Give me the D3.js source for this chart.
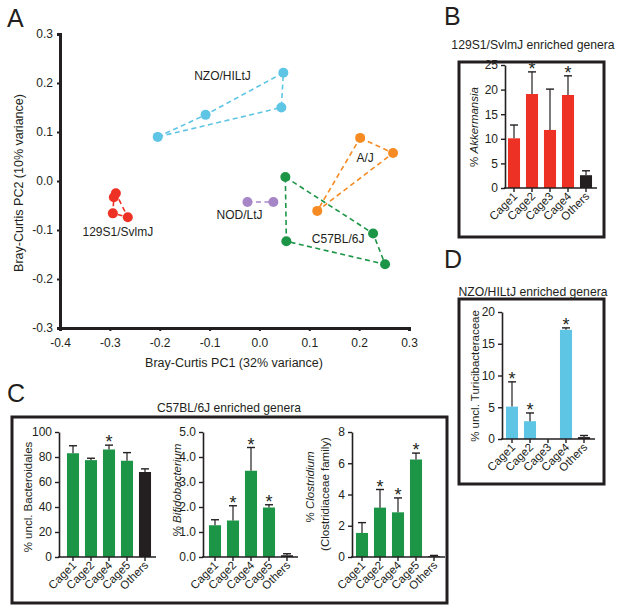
<!DOCTYPE html>
<html><head><meta charset="utf-8">
<script src="https://cdn.jsdelivr.net/npm/d3@7"></script>
<style>
html,body{margin:0;padding:0;background:#fff;}
svg text{font-family:"Liberation Sans",Arial,Helvetica,sans-serif;fill:#231f20;}
</style></head>
<body>
<svg id="chart" width="621" height="612"></svg>
<script>
// ---------- DATA ----------
// Panel A: Bray-Curtis PCoA (PC1, PC2) per strain, polygon order
const strainNames = ["129S1/SvlmJ", "NZO/HILtJ", "NOD/LtJ", "C57BL/6J", "A/J"];
const pc1_129S1 = [-0.288, -0.292, -0.294, -0.264];
const pc2_129S1 = [-0.025, -0.033, -0.066, -0.074];
const pc1_NZO = [-0.204, -0.108, 0.048, 0.044];
const pc2_NZO = [0.090, 0.135, 0.221, 0.150];
const pc1_NOD = [-0.024, 0.028];
const pc2_NOD = [-0.043, -0.043];
const pc1_C57 = [0.052, 0.228, 0.252, 0.054];
const pc2_C57 = [0.008, -0.107, -0.170, -0.123];
const pc1_AJ = [0.202, 0.268, 0.116];
const pc2_AJ = [0.088, 0.057, -0.061];
const pcXTicks = [-0.4, -0.3, -0.2, -0.1, 0.0, 0.1, 0.2, 0.3];
const pcYTicks = [-0.3, -0.2, -0.1, 0.0, 0.1, 0.2, 0.3];

// Panel B: 129S1/SvlmJ enriched genera (% Akkermansia)
const catsB = ["Cage1", "Cage2", "Cage3", "Cage4", "Others"];
const meanB = [10.1, 19.1, 11.8, 18.9, 2.6];
const semB = [2.7, 4.5, 8.3, 3.9, 0.9];
const sigB = [false, true, false, true, false];
const ticksB = [0, 5, 10, 15, 20, 25];

// Panel D: NZO/HILtJ enriched genera (% uncl. Turicibacteraceae)
const catsD = ["Cage1", "Cage2", "Cage3", "Cage4", "Others"];
const meanD = [5.1, 2.8, 0, 17.2, 0.3];
const semD = [3.9, 1.3, 0, 0.3, 0.25];
const sigD = [true, true, false, true, false];
const ticksD = [0, 5, 10, 15, 20];

// Panel C: C57BL/6J enriched genera
const catsC = ["Cage1", "Cage2", "Cage4", "Cage5", "Others"];
const meanC1 = [83, 77.5, 86, 77, 68];
const semC1 = [6, 1.5, 3.5, 6.5, 2.5];
const sigC1 = [false, false, true, false, false];
const ticksC1 = [0, 20, 40, 60, 80, 100];
const meanC2 = [1.27, 1.46, 3.45, 1.98, 0.07];
const semC2 = [0.22, 0.59, 0.93, 0.11, 0.06];
const sigC2 = [false, true, true, true, false];
const ticksC2 = [0, 1, 2, 3, 4, 5];
const meanC3 = [1.54, 3.16, 2.86, 6.24, 0.05];
const semC3 = [0.66, 1.16, 0.92, 0.41, 0.05];
const sigC3 = [false, true, true, true, false];
const ticksC3 = [0, 2, 4, 6, 8];

// ---------- STYLE ----------
const INK = "#231f20";
const RED = "#ed3124", CYAN = "#5ec5e5", GREEN = "#1d9547", ORANGE = "#f68b24", PURPLE = "#a686c6";
const svg = d3.select("#chart");

function letter(t, x, y) {
  svg.append("text").attr("x", x).attr("y", y).attr("font-size", 25).text(t);
}

// ---------- PANEL A ----------
(function () {
  const x = d3.scaleLinear().domain([-0.4, 0.3]).range([60, 409]);
  const y = d3.scaleLinear().domain([-0.3, 0.3]).range([328, 34]);
  const g = svg.append("g");
  const groups = [
    {name: strainNames[0], xs: pc1_129S1, ys: pc2_129S1, c: RED, lx: -0.284, ly: -0.113},
    {name: strainNames[1], xs: pc1_NZO, ys: pc2_NZO, c: CYAN, lx: -0.074, ly: 0.207},
    {name: strainNames[2], xs: pc1_NOD, ys: pc2_NOD, c: PURPLE, lx: -0.040, ly: -0.078},
    {name: strainNames[3], xs: pc1_C57, ys: pc2_C57, c: GREEN, lx: 0.158, ly: -0.127},
    {name: strainNames[4], xs: pc1_AJ, ys: pc2_AJ, c: ORANGE, lx: 0.212, ly: 0.039}
  ];
  groups.forEach(gr => {
    const pts = gr.xs.map((v, i) => [x(v), y(gr.ys[i])]);
    const line = pts.length > 2 ? d3.line().curve(d3.curveLinearClosed) : d3.line();
    g.append("path").attr("d", line(pts)).attr("fill", "none")
      .attr("stroke", gr.c).attr("stroke-width", 1.6).attr("stroke-dasharray", "5,3.5");
  });
  groups.forEach(gr => {
    g.selectAll(null).data(gr.xs.map((v, i) => [v, gr.ys[i]])).enter().append("circle")
      .attr("cx", d => x(d[0])).attr("cy", d => y(d[1])).attr("r", 5).attr("fill", gr.c);
    g.append("text").attr("x", x(gr.lx)).attr("y", y(gr.ly)).attr("text-anchor", "middle")
      .attr("font-size", 12).text(gr.name);
  });
  // axes
  const ax = g.append("g").attr("transform", "translate(0,328)")
    .call(d3.axisBottom(x).tickValues(pcXTicks).tickFormat(d3.format(".1f")).tickSize(3).tickPadding(7));
  const ay = g.append("g").attr("transform", "translate(60,0)")
    .call(d3.axisLeft(y).tickValues(pcYTicks).tickFormat(d3.format(".1f")).tickSize(3).tickPadding(4));
  [ax, ay].forEach(a => {
    a.select(".domain").attr("stroke", INK).attr("stroke-width", 3);
    a.selectAll(".tick line").attr("stroke", INK).attr("stroke-width", 2);
    a.selectAll("text").attr("font-size", 12).attr("font-family", '"Liberation Sans",Arial,sans-serif').attr("fill", INK);
  });
  ax.selectAll("text").text(d => d3.format(".1f")(d).replace("−", "-"));
  ay.selectAll("text").text(d => d3.format(".1f")(d).replace("−", "-"));
  g.append("text").attr("x", 234).attr("y", 367).attr("text-anchor", "middle").attr("font-size", 12.5)
    .text("Bray-Curtis PC1 (32% variance)");
  g.append("text").attr("transform", "translate(23,183) rotate(-90)").attr("text-anchor", "middle")
    .attr("font-size", 12.5).text("Bray-Curtis PC2 (10% variance)");
  letter("A", 7, 27);
})();

// ---------- BAR PANEL HELPER ----------
function barPanel(cfg) {
  const g = svg.append("g");
  const x = d3.scaleBand().domain(cfg.cats).range([cfg.x0 + cfg.off, cfg.x0 + cfg.off + 90]).paddingInner(0.33).paddingOuter(0.165);
  const y = d3.scaleLinear().domain([0, cfg.max]).range([cfg.y0, cfg.yTop]);
  const data = cfg.cats.map((c, i) => ({c, m: cfg.mean[i], s: cfg.sem[i], sig: cfg.sig[i], i}));
  g.selectAll(null).data(data).enter().append("rect")
    .attr("x", d => x(d.c)).attr("width", x.bandwidth())
    .attr("y", d => y(d.m)).attr("height", d => cfg.y0 - y(d.m))
    .attr("fill", d => d.c === "Others" ? INK : cfg.color);
  // error bars
  const eb = data.filter(d => d.s > 0);
  g.selectAll(null).data(eb).enter().append("line")
    .attr("x1", d => x(d.c) + x.bandwidth() / 2).attr("x2", d => x(d.c) + x.bandwidth() / 2)
    .attr("y1", d => y(d.m)).attr("y2", d => y(d.m + d.s)).attr("stroke", INK).attr("stroke-width", 1.2);
  g.selectAll(null).data(eb).enter().append("line")
    .attr("x1", d => x(d.c) + x.bandwidth() / 2 - 4).attr("x2", d => x(d.c) + x.bandwidth() / 2 + 4)
    .attr("y1", d => y(d.m + d.s)).attr("y2", d => y(d.m + d.s)).attr("stroke", INK).attr("stroke-width", 1.4);
  g.selectAll(null).data(data.filter(d => d.sig)).enter().append("text")
    .attr("x", d => x(d.c) + x.bandwidth() / 2).attr("y", d => y(d.m + d.s) + 3)
    .attr("text-anchor", "middle").attr("font-size", 18).text("*");
  // axes
  const ay = g.append("g").attr("transform", `translate(${cfg.x0},0)`)
    .call(d3.axisLeft(y).tickValues(cfg.ticks).tickSize(4).tickPadding(3).tickSizeOuter(0));
  ay.select(".domain").attr("stroke", INK).attr("stroke-width", 1.6);
  ay.selectAll(".tick line").attr("stroke", INK).attr("stroke-width", 1.4);
  ay.selectAll("text").attr("font-size", 12).attr("font-family", '"Liberation Sans",Arial,sans-serif').attr("fill", INK);
  g.append("line").attr("x1", cfg.x0 - 1).attr("x2", cfg.x0 + cfg.off + 92)
    .attr("y1", cfg.y0).attr("y2", cfg.y0).attr("stroke", INK).attr("stroke-width", 1.6);
  g.selectAll(null).data(data).enter().append("line")
    .attr("x1", d => x(d.c) + x.bandwidth() / 2).attr("x2", d => x(d.c) + x.bandwidth() / 2)
    .attr("y1", cfg.y0).attr("y2", cfg.y0 + 4).attr("stroke", INK).attr("stroke-width", 1.4);
  g.selectAll(null).data(data).enter().append("text")
    .attr("transform", d => `translate(${x(d.c) + x.bandwidth() / 2 + 4},${cfg.y0 + 9}) rotate(-45)`)
    .attr("text-anchor", "end").attr("font-size", 11.5).text(d => d.c);
  // y label
  const yl = g.append("text").attr("transform", `translate(${cfg.lx},${cfg.ly}) rotate(-90)`)
    .attr("text-anchor", "middle").attr("font-size", 11.5);
  cfg.label(yl, g);
}

function box(x, y, w, h) {
  svg.append("rect").attr("x", x).attr("y", y).attr("width", w).attr("height", h)
    .attr("fill", "none").attr("stroke", INK).attr("stroke-width", 3);
}

// ---------- PANEL B ----------
letter("B", 444, 25);
svg.append("text").attr("x", 533).attr("y", 49).attr("text-anchor", "middle").attr("font-size", 12.2).text("129S1/SvlmJ enriched genera");
box(459, 62, 145, 175);
barPanel({cats: catsB, mean: meanB, sem: semB, sig: sigB, ticks: ticksB, max: 25, color: RED,
  x0: 505, off: 0, y0: 188, yTop: 65, lx: 478, ly: 127,
  label: t => { t.append("tspan").text("% "); t.append("tspan").attr("font-style", "italic").text("Akkermansia"); }});

// ---------- PANEL D ----------
letter("D", 444, 268);
svg.append("text").attr("x", 533).attr("y", 296).attr("text-anchor", "middle").attr("font-size", 12.2).text("NZO/HILtJ enriched genera");
box(459, 299, 145, 185);
barPanel({cats: catsD, mean: meanD, sem: semD, sig: sigD, ticks: ticksD, max: 20, color: CYAN,
  x0: 502, off: 1, y0: 439, yTop: 312, lx: 479, ly: 376,
  label: t => t.text("% uncl. Turicibacteraceae")});

// ---------- PANEL C ----------
letter("C", 7, 402);
svg.append("text").attr("x", 229).attr("y", 412).attr("text-anchor", "middle").attr("font-size", 12.1).text("C57BL/6J enriched genera");
box(12, 417, 435, 186);
barPanel({cats: catsC, mean: meanC1, sem: semC1, sig: sigC1, ticks: ticksC1, max: 100, color: GREEN,
  x0: 59, off: 5, y0: 557, yTop: 432, lx: 32, ly: 497,
  label: t => t.text("% uncl. Bacteroidales")});
barPanel({cats: catsC, mean: meanC2, sem: semC2, sig: sigC2, ticks: ticksC2, max: 5, color: GREEN,
  x0: 203, off: 3, y0: 557, yTop: 432, lx: 181, ly: 490,
  label: t => { t.append("tspan").text("% "); t.append("tspan").attr("font-style", "italic").text("Bifidobacterium"); }});
barPanel({cats: catsC, mean: meanC3, sem: semC3, sig: sigC3, ticks: ticksC3, max: 8, color: GREEN,
  x0: 352, off: 1, y0: 557, yTop: 432, lx: 314, ly: 487,
  label: (t, g) => {
    t.append("tspan").text("% "); t.append("tspan").attr("font-style", "italic").text("Clostridium");
    g.append("text").attr("transform", "translate(329,494) rotate(-90)").attr("text-anchor", "middle")
      .attr("font-size", 11.5).text("(Clostridiaceae family)");
  }});
</script>
</body></html>
